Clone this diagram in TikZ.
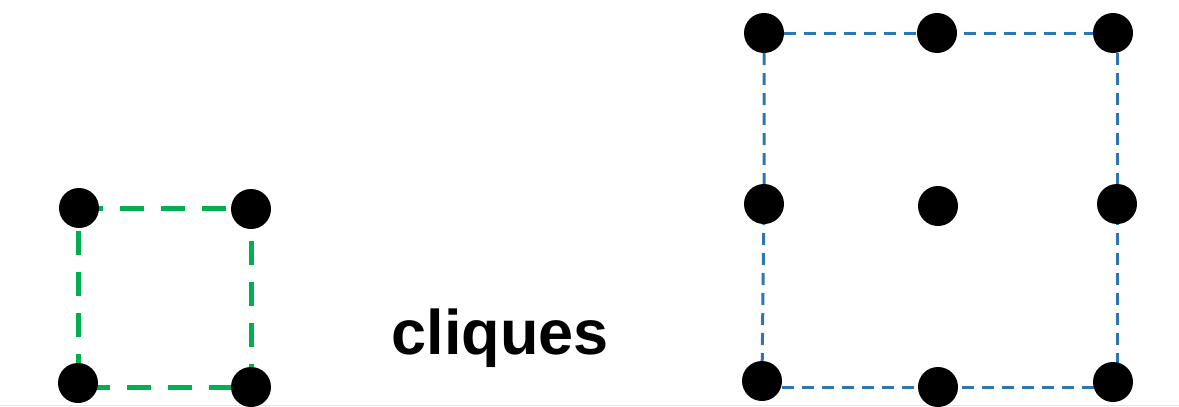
\documentclass[tikz,border=0pt]{standalone}
\usepackage{fontspec}
\setmainfont{Liberation Sans}
\usetikzlibrary{backgrounds}
\definecolor{cgreen}{RGB}{0,176,80}
\definecolor{cblue}{RGB}{46,117,182}
\tikzset{
  dot/.style={circle,fill=black,inner sep=0pt,minimum size=40pt},
  greenedge/.style={draw=cgreen,line width=5pt,dash pattern=on 24pt off 17pt},
  blueedge/.style={draw=cblue,line width=3pt,dash pattern=on 12pt off 8pt},
}
\begin{document}
\begin{tikzpicture}[x=1pt,y=-1pt]
\useasboundingbox (0,0) rectangle (1179,407);
% left clique
\node[dot] (gtl) at (79,208) {};
\node[dot] (gtr) at (251,209) {};
\node[dot] (gbl) at (78,383) {};
\node[dot] (gbr) at (251,387) {};
% right grid
\node[dot] (tl) at (764,33) {};
\node[dot] (tm) at (937,33) {};
\node[dot] (tr) at (1113,33) {};
\node[dot] (ml) at (764,204) {};
\node[dot] (mm) at (938,206) {};
\node[dot] (mr) at (1117,204) {};
\node[dot] (bl) at (762,381) {};
\node[dot] (bm) at (938,387) {};
\node[dot] (br) at (1113,382) {};
% label
\node[anchor=base,inner sep=0pt,font=\bfseries\fontsize{63}{66}\selectfont] (lab) at (500,354) {cliques};
\begin{scope}[on background layer]
\draw[greenedge] (gtl.center) -- (gtl.center -| gtr.center) -- (gtr.center |- gbr.center) -- (gbl.center |- gbr.center) -- (gbl.center |- gtl.center);
\draw[blueedge] (tl.center) -- (tm.center) -- (tr.center);
\draw[blueedge] (tr.center -| mr.center) -- (mr.center) -- (br.center -| mr.center);
\draw[blueedge] (bl.center |- bm.center) -- (bm.center) -- (br.center |- bm.center);
\draw[blueedge] (tl.center) -- (ml.center) -- (bl.center);
\draw[gray!20,line width=1pt] (0,405.5) -- (1179,405.5);
\end{scope}
\end{tikzpicture}
\end{document}
